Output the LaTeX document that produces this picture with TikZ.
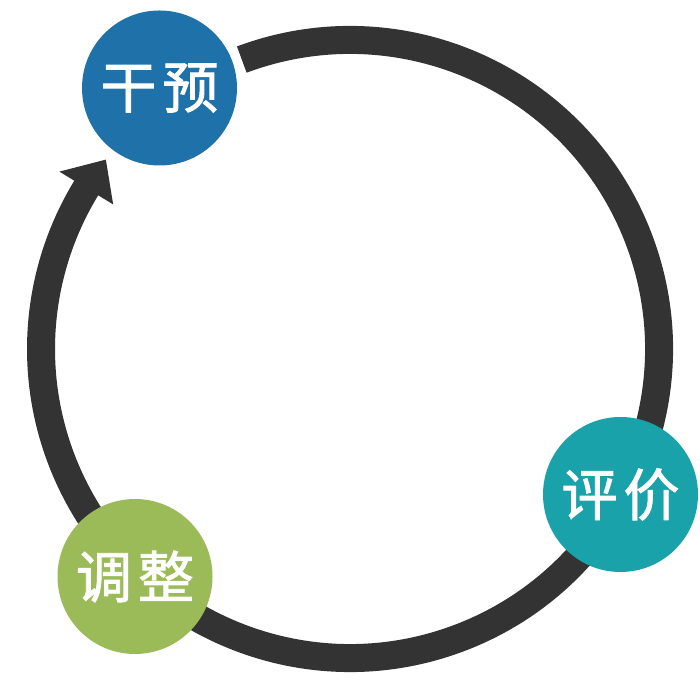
\documentclass[tikz,border=0pt]{standalone}
\usepackage{fontspec}
\newfontfamily\cjk[FakeBold=1.6]{Noto Sans CJK SC}
\definecolor{ringcol}{HTML}{333333}
\definecolor{bluec}{HTML}{1F71AA}
\definecolor{tealc}{HTML}{19A2AA}
\definecolor{greenc}{HTML}{9BBB59}
\tikzset{
  ring/.style={draw=ringcol, line width=28pt, line cap=butt},
  bubble/.style={circle, minimum size=155pt, inner sep=0pt, text=white,
    font=\cjk\fontsize{56}{60}\selectfont},
}
\begin{document}
\begin{tikzpicture}[x=1pt,y=1pt]
\useasboundingbox (0,0) rectangle (700,700);
\coordinate (C) at (350,351);
% ring arc (clockwise)
\draw[ring] (C) ++(110.5:309) arc[start angle=110.5, end angle=-211.8, radius=309];
% arrowhead
\fill[ringcol, shift={(C)}] (142.2:309) -- (148.6:340.5) -- (148.6:277.5) -- cycle;
% stage bubbles
\node[bubble, fill=bluec] (gy) at (159.5,612) {干\kern6pt 预};
\node[bubble, fill=tealc] (pj) at (620.5,205.5) {评\kern6pt 价};
\node[bubble, fill=greenc] (tz) at (135,123.5) {调\kern6pt 整};
\end{tikzpicture}
\end{document}
